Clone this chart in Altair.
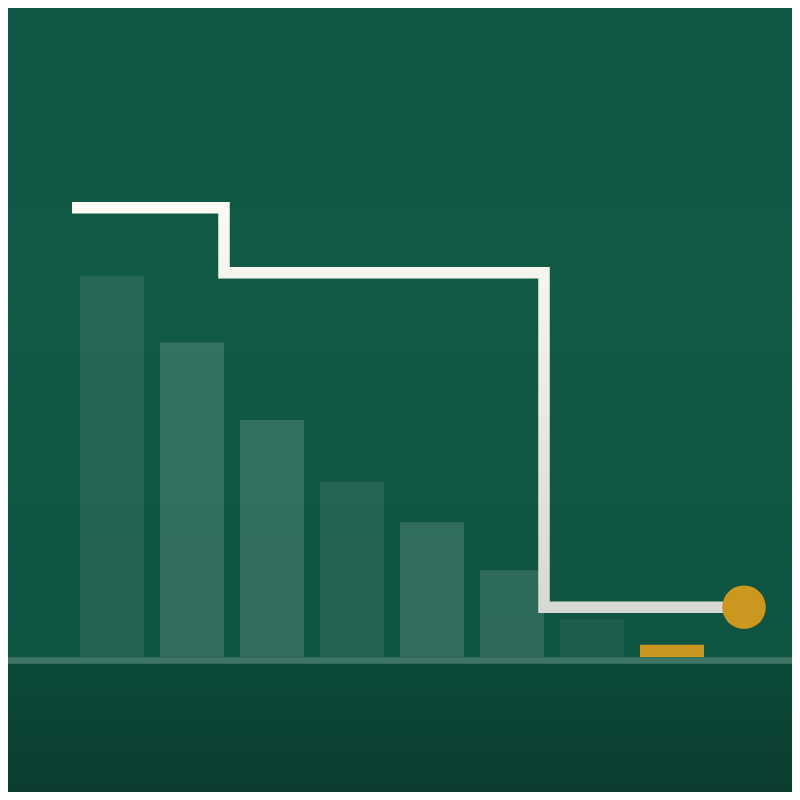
import altair as alt
import pandas as pd

# ---- data ----
categories = ["1", "2", "3", "4", "5", "6", "7", "8"]
positions = [0, 1, 2, 3, 4, 5, 6, 7]
bar_values = [76.3, 63.0, 47.5, 35.2, 27.0, 17.4, 7.6, 2.5]

step_x = [-0.5, 1.4, 5.4, 7.9]
step_y = [90, 77, 10, 10]

end_x = [7.9]
end_y = [10]

# ---- styles ----
W, H = 784, 784
bar_colors = [
    "rgba(255,255,255,0.085)", "rgba(255,255,255,0.15)", "rgba(255,255,255,0.15)",
    "rgba(255,255,255,0.085)", "rgba(255,255,255,0.15)", "rgba(255,255,255,0.13)",
    "rgba(255,255,255,0.06)", "#c9961f",
]
gold = "#cb971e"

xs = alt.Scale(domain=[-1.3, 8.5], nice=False, zero=False)
ys = alt.Scale(domain=[-27, 130], nice=False, zero=False)


def vgrad(stops):
    return {
        "gradient": "linear",
        "stops": [{"offset": o, "color": c} for o, c in stops],
        "x1": 0, "x2": 0, "y1": 0, "y2": 1,
    }


bg_grad = vgrad([(0, "#105745"), (0.45, "#115a46"), (1, "#0f5341")])
low_grad = vgrad([(0, "#0c4a39"), (1, "#0a3d2f")])
line_grad = vgrad([(0, "#fbfbf3"), (1, "#d8d8d4")])

bars_df = pd.DataFrame({
    "cat": categories,
    "x0": [p - 0.4 for p in positions],
    "x1": [p + 0.4 for p in positions],
    "v": bar_values,
    "z": [0] * len(categories),
})
line_df = pd.DataFrame({"x": step_x, "y": step_y})
end_df = pd.DataFrame({"x": end_x, "y": end_y})
band_df = pd.DataFrame({"top": [130, 0, 0], "bot": [0, -27, -1.3], "part": ["bg", "low", "axis"]})

bg = alt.Chart(band_df).transform_filter(alt.datum.part == "bg").mark_rect(fill=bg_grad).encode(
    x=alt.value(0), x2=alt.value(W),
    y=alt.Y("top:Q", scale=ys, axis=None), y2="bot:Q",
)
low = alt.Chart(band_df).transform_filter(alt.datum.part == "low").mark_rect(fill=low_grad).encode(
    x=alt.value(0), x2=alt.value(W),
    y=alt.Y("top:Q", scale=ys, axis=None), y2="bot:Q",
)
baseline = alt.Chart(band_df).transform_filter(alt.datum.part == "axis").mark_rect(fill="#3e7565").encode(
    x=alt.value(0), x2=alt.value(W),
    y=alt.Y("top:Q", scale=ys, axis=None), y2="bot:Q",
)

bars = alt.Chart(bars_df).mark_rect().encode(
    x=alt.X("x0:Q", scale=xs, axis=None),
    x2="x1:Q",
    y=alt.Y("v:Q", scale=ys, axis=None),
    y2="z:Q",
    color=alt.Color("cat:N", scale=alt.Scale(domain=categories, range=bar_colors), legend=None),
)

line = alt.Chart(line_df).mark_line(
    interpolate="step-after", strokeWidth=11.5, strokeCap="butt", strokeJoin="miter",
    stroke=line_grad,
).encode(
    x=alt.X("x:Q", scale=xs, axis=None),
    y=alt.Y("y:Q", scale=ys, axis=None),
)

dot = alt.Chart(end_df).mark_circle(color=gold, opacity=1, size=1900).encode(
    x=alt.X("x:Q", scale=xs, axis=None),
    y=alt.Y("y:Q", scale=ys, axis=None),
)

chart = alt.layer(bg, low, bars, baseline, line, dot).properties(
    width=W, height=H, padding=0, background="#115a46",
).configure_view(stroke=None)

chart.save("out.html", embed_options={"renderer": "svg", "actions": False})
